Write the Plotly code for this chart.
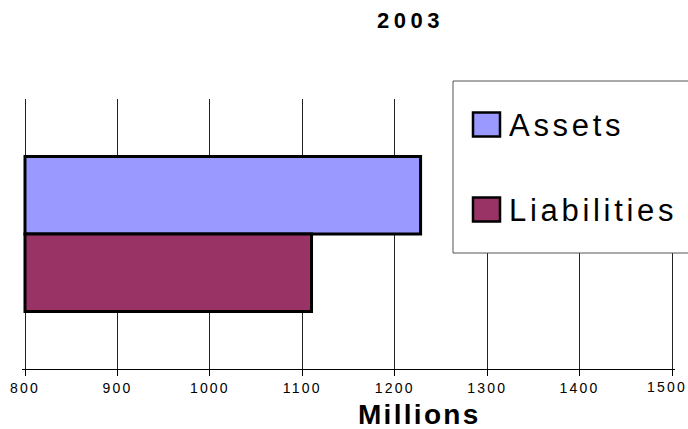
import plotly.graph_objects as go

# Balance sheet totals, in millions
year = "2003"
series = ["Assets", "Liabilities"]
values = [1228, 1110]
colors = ["#9999FF", "#993366"]
x_ticks = [800, 900, 1000, 1100, 1200, 1300, 1400, 1500]
axis_start = 800

W, H = 688, 429
ML, MR, MT, MB = 22, 13, 99, 60
PW, PH = W - ML - MR, H - MT - MB
# a few pixels of padding keep the 800 and 1500 grid lines visible
PX_PER_UNIT = 647 / 700
x_lo = 800 - 3 / PX_PER_UNIT
x_hi = x_lo + PW / PX_PER_UNIT
TICK_SPACING = 2.2
TICK_SIZE = 14


def px_x(p):
    return (p - ML) / PW


def px_y(p):
    return (H - MB - p) / PH


def spaced(text, ls):
    return f'<span style="letter-spacing:{ls}px">{text}</span>'


fig = go.Figure()
for name, val, col in zip(series, values, colors):
    fig.add_trace(go.Bar(
        y=[year], x=[val - axis_start], base=axis_start, name=name,
        orientation="h",
        marker=dict(color=col, line=dict(color="black", width=3)),
        showlegend=False,
    ))

font_main = "Liberation Sans, Arial, sans-serif"

# the last label is pulled in from the page edge, so it is drawn separately
tick_text = [spaced(str(t), TICK_SPACING) for t in x_ticks[:-1]] + [""]

fig.update_layout(
    width=W, height=H,
    margin=dict(l=ML, r=MR, t=MT, b=MB),
    paper_bgcolor="white", plot_bgcolor="white",
    barmode="group", bargap=0.426, bargroupgap=0,
    font=dict(family=font_main, color="black"),
    xaxis=dict(
        range=[x_lo, x_hi], tickvals=x_ticks, ticktext=tick_text,
        ticklabeloverflow="allow", automargin=False,
        showgrid=True, gridcolor="#222", gridwidth=1,
        showline=True, linecolor="black", linewidth=1,
        ticks="outside", ticklen=6, tickcolor="black",
        tickfont=dict(size=TICK_SIZE, family=font_main),
        zeroline=False,
    ),
    yaxis=dict(
        showticklabels=False, showgrid=False, zeroline=False,
        autorange="reversed", automargin=False,
    ),
)

fig.add_annotation(x=px_x(689), y=px_y(387), xref="paper", yref="paper",
                   xanchor="right", yanchor="middle", showarrow=False,
                   text=spaced(str(x_ticks[-1]), TICK_SPACING),
                   font=dict(size=TICK_SIZE, family=font_main, color="black"))

# Legend panel
fig.add_shape(type="rect", xref="paper", yref="paper",
              x0=px_x(453), x1=px_x(700), y0=px_y(253), y1=px_y(81),
              line=dict(color="#555", width=1), fillcolor="white", layer="above")
legend_rows = [(124.5, 125), (209.5, 210)]
for (sq_c, txt_c), name, col in zip(legend_rows, series, colors):
    fig.add_shape(type="rect", xref="paper", yref="paper",
                  x0=px_x(473), x1=px_x(500),
                  y0=px_y(sq_c + 12), y1=px_y(sq_c - 12),
                  line=dict(color="black", width=2.5), fillcolor=col, layer="above")
    fig.add_annotation(x=px_x(507), y=px_y(txt_c), xref="paper", yref="paper",
                       xanchor="left", yanchor="middle", showarrow=False,
                       text=spaced(name, 3.7),
                       font=dict(size=31, family=font_main, color="black"))

fig.add_annotation(x=px_x(410), y=px_y(20), xref="paper", yref="paper",
                   xanchor="center", yanchor="middle", showarrow=False,
                   text="<b>" + spaced(year, 4.5) + "</b>",
                   font=dict(size=22, family=font_main, color="black"))
fig.add_annotation(x=px_x(419), y=px_y(414), xref="paper", yref="paper",
                   xanchor="center", yanchor="middle", showarrow=False,
                   text="<b>" + spaced("Millions", 2.3) + "</b>",
                   font=dict(size=28, family=font_main, color="black"))

fig.write_html("out.html")
